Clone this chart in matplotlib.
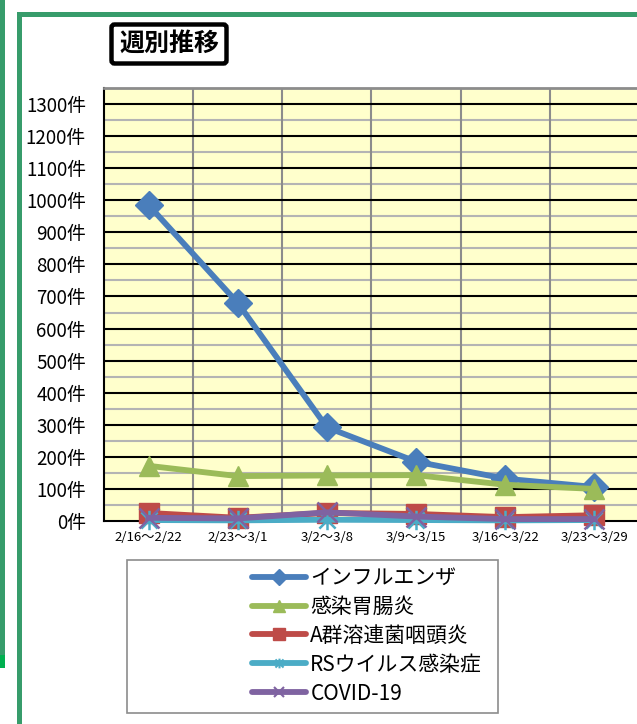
import matplotlib
matplotlib.use("Agg")
import matplotlib.pyplot as plt
from matplotlib.lines import Line2D
from matplotlib.patches import Rectangle
from matplotlib.path import Path

plt.rcParams['font.family'] = ['Noto Sans CJK JP', 'DejaVu Sans']

categories = ["2/16～2/22", "2/23～3/1", "3/2～3/8", "3/9～3/15", "3/16～3/22", "3/23～3/29"]
series_names = ["インフルエンザ", "感染胃腸炎", "A群溶連菌咽頭炎", "RSウイルス感染症", "COVID-19"]
influenza = [985, 680, 292, 185, 132, 106]
gastro = [172, 140, 142, 143, 113, 100]
strep = [25, 10, 25, 22, 12, 18]
rsv = [3, 2, 4, 3, 2, 3]
covid = [10, 8, 27, 14, 6, 6]
yticks = list(range(0, 1301, 100))
ytick_labels = [f"{v}件" for v in yticks]

W, H = 637, 724
fig = plt.figure(figsize=(W / 100, H / 100), dpi=100)

def fx(px):
    return px / W

def fy(py):
    return 1 - py / H

green = '#379c6b'
# outer frame
fig.add_artist(Rectangle((0, fy(668)), fx(5), fy(0) - fy(668), transform=fig.transFigure,
                         facecolor=green, edgecolor='none'))
fig.add_artist(Rectangle((0, fy(668)), fx(5), fy(655) - fy(668), transform=fig.transFigure,
                         facecolor='#00b050', edgecolor='none'))
fig.add_artist(Line2D([fx(18.5), fx(18.5)], [fy(13.5), fy(H + 5)], transform=fig.transFigure,
                      color=green, lw=3.6, solid_capstyle='projecting'))
fig.add_artist(Line2D([fx(18.5), fx(W + 5)], [fy(13.5), fy(13.5)], transform=fig.transFigure,
                      color=green, lw=3.6, solid_capstyle='projecting'))

# axes
left, right, top, bottom = 104, 639, 88, 521
ax = fig.add_axes([fx(left), fy(bottom), fx(right - left), fy(top) - fy(bottom)])
ax.set_facecolor('#ffffcc')
x = list(range(len(categories)))
ax.set_xlim(-0.5, len(categories) - 0.5)
ax.set_ylim(0, 1350)

# grid
for v in range(50, 1351, 100):
    ax.axhline(v, color='#b4b4b4', lw=1.5, zorder=1)
for v in yticks[1:]:
    ax.axhline(v, color='black', lw=1.5, zorder=1.2)
for i in range(len(categories) - 1):
    ax.axvline(i + 0.5, color='#8c8c8c', lw=1.5, zorder=1.1)

star = Path([(-1, -1), (1, 1), (-1, 1), (1, -1), (0, -1.2), (0, 1.2)],
            [Path.MOVETO, Path.LINETO, Path.MOVETO, Path.LINETO, Path.MOVETO, Path.LINETO])

colors = ['#4a7ebb', '#9bbb59', '#be4b48', '#4bacc6', '#7f63a1']
data = [influenza, gastro, strep, rsv, covid]
markers = ['D', '^', 's', star, 'x']
msizes = [14, 15, 14, 14, 14]
for k, (vals, c, m, ms) in enumerate(zip(data, colors, markers, msizes)):
    if k < 3:
        ax.plot(x, vals, color=c, lw=4.2, marker=m, ms=ms, mfc=c, mec=c, zorder=3 + k,
                clip_on=False)
    else:
        ax.plot(x, vals, color=c, lw=4.2, marker=m, ms=ms, mfc='none', mec=c, mew=1.8,
                zorder=3 + k, clip_on=False)

ax.set_yticks(yticks)
ax.set_yticklabels(ytick_labels, fontsize=13.5)
ax.set_xticks(x)
ax.set_xticklabels(categories, fontsize=9.5)
ax.tick_params(axis='y', length=0, pad=13)
ax.tick_params(axis='x', length=0, pad=7.5)
for s in ['left', 'bottom']:
    ax.spines[s].set_color('black')
    ax.spines[s].set_linewidth(1.5)
ax.spines['top'].set_color('#8c8c8c')
ax.spines['top'].set_linewidth(2)
ax.spines['right'].set_visible(False)

# title
fig.text(fx(169), fy(44), "週別推移", fontsize=18, fontweight='bold', ha='center', va='center',
         bbox=dict(boxstyle='round,pad=0.3,rounding_size=0.12', facecolor='white',
                   edgecolor='black', linewidth=3.2))

# legend box
fig.add_artist(Rectangle((fx(127), fy(713)), fx(498 - 127), fy(560) - fy(713),
                         transform=fig.transFigure, facecolor='white', edgecolor='#8c8c8c', lw=1.2))
lmarkers = ['D', '^', 's', star, 'x']
lms = [8, 9, 9, 7, 7]
handles = []
for k, (c, m, ms) in enumerate(zip(colors, lmarkers, lms)):
    if k < 3:
        handles.append(Line2D([], [], color=c, lw=4.2, marker=m, ms=ms, mfc=c, mec=c,
                              solid_capstyle='round'))
    else:
        handles.append(Line2D([], [], color=c, lw=4.2, marker=m, ms=ms, mfc='none', mec=c, mew=1.5,
                              solid_capstyle='round'))
leg = fig.legend(handles, series_names, loc='upper left',
                 bbox_to_anchor=(fx(252), fy(567)), bbox_transform=fig.transFigure,
                 frameon=False, fontsize=15, handlelength=2.6, handletextpad=0.2,
                 labelspacing=0.33, borderpad=0, borderaxespad=0)

fig.savefig("out.png", dpi=100)
